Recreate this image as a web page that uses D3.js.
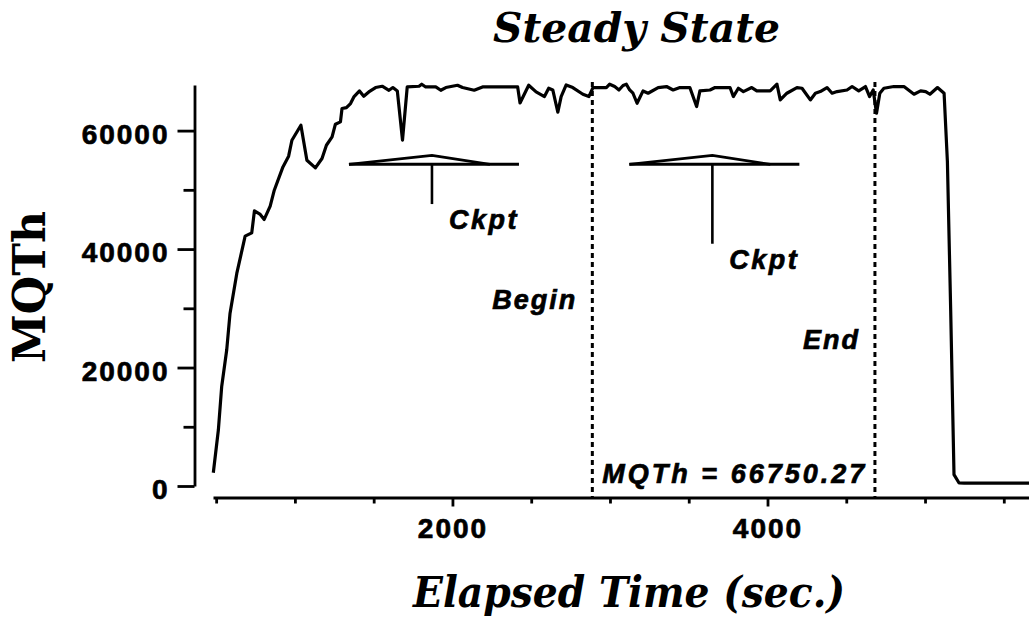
<!DOCTYPE html>
<html>
<head>
<meta charset="utf-8">
<script src="https://cdn.jsdelivr.net/npm/d3@7"></script>
<style>
  body { margin: 0; background: #fff; }
  .sans { font-family: "Liberation Sans", Arial, sans-serif; font-weight: bold; stroke: #000; stroke-width: 0.7px; }
  .serif { font-family: "DejaVu Serif", serif; font-weight: bold; }
</style>
</head>
<body>
<div id="chart"></div>
<script>
// elapsed time (sec.) and MQTh
var times = [482, 514, 535, 567, 588, 631, 684, 726, 743, 780, 805, 843, 869, 924, 960, 981,
  1038, 1076, 1130, 1172, 1200, 1236, 1257, 1289, 1299, 1327, 1353, 1374, 1410, 1437, 1469,
  1512, 1554, 1597, 1622, 1650, 1683, 1713, 1788, 1805, 1830, 1894, 1926, 1958, 2032, 2064,
  2138, 2191, 2414, 2429, 2484, 2531, 2584, 2611, 2637, 2669, 2690, 2722, 2764, 2828, 2866,
  2892, 2977, 2998, 3030, 3057, 3083, 3104, 3125, 3146, 3172, 3210, 3242, 3306, 3359, 3401,
  3444, 3507, 3550, 3571, 3635, 3667, 3762, 3783, 3815, 3847, 3900, 3932, 4017, 4060, 4081,
  4123, 4187, 4219, 4272, 4304, 4335, 4378, 4410, 4442, 4505, 4537, 4579, 4622, 4648, 4671,
  4692, 4713, 4739, 4802, 4866, 4930, 4972, 5004, 5031, 5079, 5121, 5142, 5163, 5184, 5216,
  5248, 5400, 5660];
var mqth = [2240, 9450, 16750, 22950, 29140, 35890, 42180, 42740, 46450, 45840, 45000, 47240,
  49940, 53870, 55680, 58380, 60910, 55000, 53700, 55290, 57530, 58930, 61080, 61470, 63730,
  63890, 64570, 65680, 66700, 65800, 66530, 67270, 67490, 66810, 67270, 66700, 58380, 67370,
  67490, 67830, 67370, 67370, 66810, 67270, 67660, 67270, 66810, 67370, 67370, 64670, 67660,
  66530, 65750, 67150, 66860, 63100, 65750, 67710, 67270, 66140, 65750, 67270, 67270, 67830,
  67440, 66860, 67610, 67830, 66860, 66310, 64620, 66700, 66310, 67270, 67440, 66860, 67270,
  67270, 64060, 66700, 66860, 67270, 67270, 65750, 67150, 66590, 67270, 66700, 66700, 67830,
  65180, 66310, 67270, 67150, 65180, 66310, 66590, 67270, 66310, 66590, 66860, 67440, 66700,
  67440, 65750, 66860, 62930, 66310, 67150, 67440, 67440, 66140, 66700, 66590, 66140, 67270,
  66310, 54780, 29480, 1910, 510, 500, 500, 500];

var yMajorTicks = [0, 20000, 40000, 60000];
var yMinorTicks = [10000, 30000, 50000];
var xMajorTicks = [2000, 4000];
var xMinorTicks = [500, 1000, 1500, 2500, 3000, 3500, 4500, 5000, 5500];

// steady state window
var windowTimes = [2888, 4682];
var windowLabels = ["Begin", "End"];
var windowLabelLevels = [29900, 23100];
var meanLabel = "MQTh = 66750.27";

// checkpoints
var ckptTimes = [1870, 3650];
var ckptStemEnds = [47600, 40900];
var ckptTop = 54300;

var svgWidth = 1029, svgHeight = 620;

var svg = d3.select("#chart").append("svg")
  .attr("width", svgWidth)
  .attr("height", svgHeight);

var x = d3.scaleLinear().domain([480, 5660]).range([213, 1029]);
var y = d3.scaleLinear().domain([0, 67700]).range([486, 85]);

// y axis
var yAxisG = svg.append("g")
  .attr("transform", "translate(194.5,0)")
  .call(d3.axisLeft(y).tickValues(yMajorTicks).tickSize(17).tickSizeOuter(0).tickFormat(d => d));
svg.append("g")
  .attr("transform", "translate(194.5,0)")
  .call(d3.axisLeft(y).tickValues(yMinorTicks).tickSize(11).tickFormat(""))
  .select(".domain").remove();

// x axis
var xAxisG = svg.append("g")
  .attr("transform", "translate(0,497.5)")
  .call(d3.axisBottom(x).tickValues(xMajorTicks).tickSize(9).tickSizeOuter(0).tickFormat(d => d));
svg.append("g")
  .attr("transform", "translate(0,497.5)")
  .call(d3.axisBottom(x).tickValues(xMinorTicks).tickSize(6).tickFormat(""))
  .select(".domain").remove();

svg.selectAll(".domain, .tick line")
  .attr("stroke", "#000")
  .attr("stroke-width", 2.8);

yAxisG.selectAll(".tick text")
  .attr("class", "sans")
  .attr("x", -25)
  .attr("dy", null)
  .attr("y", 12.5)
  .style("font-size", "28px")
  .style("letter-spacing", "2px")
  .attr("fill", "#000");

xAxisG.selectAll(".tick text")
  .attr("class", "sans")
  .attr("dy", null)
  .attr("y", 40.5)
  .style("font-size", "28px")
  .style("letter-spacing", "2px")
  .attr("fill", "#000");

// dashed window lines
svg.selectAll(".winline")
  .data(windowTimes)
  .enter()
  .append("line")
  .attr("x1", d => x(d))
  .attr("x2", d => x(d))
  .attr("y1", 82)
  .attr("y2", 497)
  .attr("stroke", "#000")
  .attr("stroke-width", 3)
  .attr("stroke-dasharray", "5,4");

svg.selectAll(".winlabel")
  .data(windowTimes)
  .enter()
  .append("text")
  .attr("class", "sans")
  .attr("x", d => x(d) - 15)
  .attr("y", (d, i) => y(windowLabelLevels[i]))
  .attr("text-anchor", "end")
  .style("font-size", "27px")
  .style("font-style", "italic")
  .style("letter-spacing", "2px")
  .text((d, i) => windowLabels[i]);

svg.append("text")
  .attr("class", "sans")
  .attr("x", x(windowTimes[0]) + 10)
  .attr("y", 483)
  .attr("textLength", 262)
  .style("font-size", "27px")
  .style("font-style", "italic")
  .text(meanLabel);

// checkpoint markers
ckptTimes.forEach(function(t, i) {
  var cx = x(t), by = y(ckptTop);
  svg.append("path")
    .attr("d", `M${cx - 83},${by} L${cx},${by - 9} L${cx + 58},${by}`)
    .attr("fill", "none")
    .attr("stroke", "#000")
    .attr("stroke-width", 2.6);
  svg.append("line")
    .attr("x1", cx - 83).attr("x2", cx + 87)
    .attr("y1", by).attr("y2", by)
    .attr("stroke", "#000")
    .attr("stroke-width", 3);
  svg.append("line")
    .attr("x1", cx).attr("x2", cx)
    .attr("y1", by).attr("y2", y(ckptStemEnds[i]))
    .attr("stroke", "#000")
    .attr("stroke-width", 2.6);
  svg.append("text")
    .attr("class", "sans")
    .attr("x", cx + 17)
    .attr("y", y(ckptStemEnds[i]) + 25)
    .style("font-size", "27px")
    .style("font-style", "italic")
    .style("letter-spacing", "2.5px")
    .text("Ckpt");
});

// MQTh line
var line = d3.line()
  .x((d, i) => x(times[i]))
  .y(d => y(d));

svg.append("path")
  .datum(mqth)
  .attr("d", line)
  .attr("fill", "none")
  .attr("stroke", "#000")
  .attr("stroke-width", 3.2)
  .attr("stroke-linejoin", "round");

// titles
svg.append("text")
  .attr("class", "serif")
  .attr("x", 636.5)
  .attr("y", 42)
  .attr("text-anchor", "middle")
  .attr("textLength", 287)
  .attr("lengthAdjust", "spacingAndGlyphs")
  .style("font-size", "41px")
  .style("font-style", "italic")
  .text("Steady State");

svg.append("text")
  .attr("class", "serif")
  .attr("x", 629)
  .attr("y", 607)
  .attr("text-anchor", "middle")
  .attr("textLength", 432)
  .attr("lengthAdjust", "spacingAndGlyphs")
  .style("font-size", "42px")
  .style("font-style", "italic")
  .text("Elapsed Time (sec.)");

svg.append("text")
  .attr("class", "serif")
  .attr("transform", "translate(45,287) rotate(-90)")
  .attr("text-anchor", "middle")
  .style("font-size", "44px")
  .text("MQTh");
</script>
</body>
</html>
